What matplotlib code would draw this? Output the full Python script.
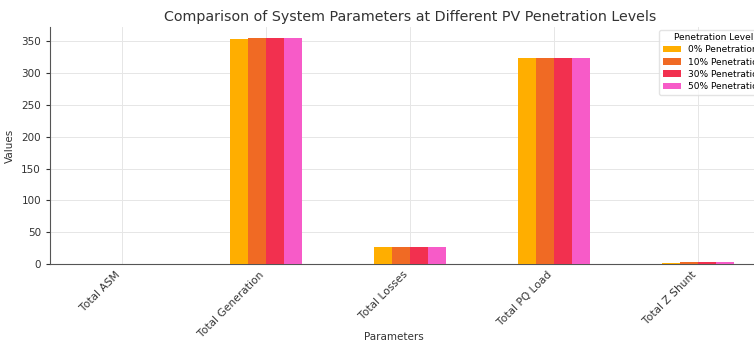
import numpy as np
import matplotlib.pyplot as plt

parameters = ["Total ASM", "Total Generation", "Total Losses", "Total PQ Load", "Total Z Shunt"]
levels = ["0% Penetration", "10% Penetration", "30% Penetration", "50% Penetration"]
values_0 = [0, 354, 27, 324, 1.5]
values_10 = [0, 355, 27, 324, 2.5]
values_30 = [0, 355, 27, 324, 2.5]
values_50 = [0, 355, 27, 324, 2.5]
colors = ["#FFAE00", "#F06A24", "#F2304F", "#F75BC8"]

series = [values_0, values_10, values_30, values_50]

fig = plt.figure(figsize=(7.54, 3.43), dpi=100)
# axes extends slightly past the right edge, like the cropped original
ax = fig.add_axes([50 / 754, 1 - 264 / 343, 720 / 754, 237 / 343])

x = np.arange(len(parameters))
width = 0.125
for i, (vals, lab, col) in enumerate(zip(series, levels, colors)):
    ax.bar(x + (i - 1.5) * width, vals, width, label=lab, color=col, zorder=3)

ax.set_xlim(-0.5, 4.5)
ax.set_ylim(0, 372.75)
ax.set_xticks(x)
ax.set_xticklabels(parameters, rotation=45, ha="right", fontsize=7.7, color="#333333")
ax.tick_params(axis="y", labelsize=7.5, colors="#333333", length=3)
ax.tick_params(axis="x", length=0, pad=4)
ax.grid(True, color="#e6e6e6", linewidth=0.7, zorder=0)
for s in ["top", "right"]:
    ax.spines[s].set_visible(False)
for s in ["left", "bottom"]:
    ax.spines[s].set_color("#555555")

ax.set_title("Comparison of System Parameters at Different PV Penetration Levels", fontsize=10.3, color="#333333", pad=4)
ax.set_xlabel("Parameters", fontsize=7.5, color="#333333")
ax.xaxis.set_label_coords(344 / 720, -68 / 237)
ax.set_ylabel("Values", fontsize=7.5, color="#333333")
ax.yaxis.set_label_coords(-35 / 720, 0.5)

leg = ax.legend(title="Penetration Level", loc="upper right", fontsize=6.5, title_fontsize=6.5,
                frameon=True, borderaxespad=0.3, labelspacing=0.35)
leg.get_frame().set_edgecolor("#dddddd")

fig.savefig("out.png", dpi=100)
